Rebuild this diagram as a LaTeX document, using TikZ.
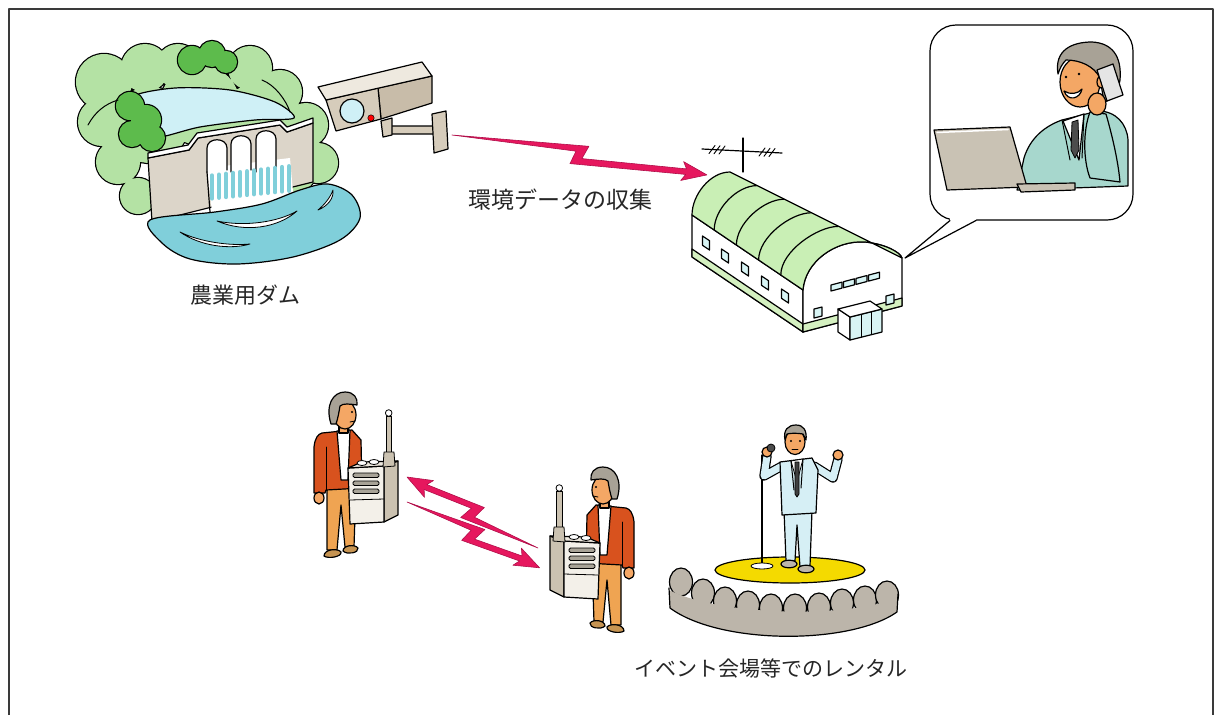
\documentclass[tikz,border=0pt]{standalone}
\usepackage{fontspec}
\newfontfamily\jpfont{Noto Sans CJK JP}
\usetikzlibrary{calc}

\definecolor{treeL}{HTML}{B4E2A4}
\definecolor{treeD}{HTML}{5DBB4C}
\definecolor{waterL}{HTML}{CFF0F6}
\definecolor{waterT}{HTML}{80CFDA}
\definecolor{concrete}{HTML}{DCD5C9}
\definecolor{camBody}{HTML}{D6CCBB}
\definecolor{camTop}{HTML}{EEE9DF}
\definecolor{camSide}{HTML}{C8BCA9}
\definecolor{boltC}{HTML}{E6175E}
\definecolor{boltE}{HTML}{B0104A}
\definecolor{roofG}{HTML}{C9EFB5}
\definecolor{baseG}{HTML}{D4F0C0}
\definecolor{glass}{HTML}{D8F4F4}
\definecolor{laptop}{HTML}{C9C2B4}
\definecolor{suitT}{HTML}{A7D7CD}
\definecolor{skin}{HTML}{F4A765}
\definecolor{hair}{HTML}{A8A296}
\definecolor{jacket}{HTML}{D8521E}
\definecolor{pants}{HTML}{EFA452}
\definecolor{shoe}{HTML}{C69452}
\definecolor{radioF}{HTML}{F3F0E9}
\definecolor{radioS}{HTML}{CBC2B1}
\definecolor{slot}{HTML}{A8A397}
\definecolor{stageY}{HTML}{F4DA00}
\definecolor{crowd}{HTML}{BCB5AA}
\definecolor{suitB}{HTML}{D6EFF5}
\definecolor{frameC}{HTML}{3A3A3A}

\tikzset{
  ink/.style={draw=black,line width=1.2},
  fineink/.style={draw=black,line width=0.8},
  lbl/.style={font=\jpfont\fontsize{22}{22}\selectfont,inner sep=0pt,text=black!85},
  % zig-zag radio bolt, tail at the origin, head at (#1,0)
  pics/bolt/.style={code={
    \path[fill=boltC,draw=boltE,line width=0.6]
      (0,0) -- ({0.5*#1+8},-10) -- ({0.5*#1+3},3.2) -- ({#1-21},-2.8)
      -- ({#1-25},-9.5) -- (#1,0) -- ({#1-25},9.5) -- ({#1-21},2.8)
      -- ({0.5*#1-8},10) -- ({0.5*#1-4},-3.2) -- cycle;
  }},
  % person carrying a portable transceiver
  pics/radioman/.style={code={
    \path[ink,fill=pants] (327,485) -- (356,485) -- (354,547) -- (345,547) -- (341,505) -- (337,550) -- (327,550) -- cycle;
    \path[ink,fill=shoe] (324,556) .. controls (324,549) and (338,548) .. (341,552) .. controls (342,557) and (328,559) .. (324,556) -- cycle;
    \path[ink,fill=shoe] (343,551) .. controls (343,545) and (355,544) .. (358,548) .. controls (359,553) and (347,555) .. (343,551) -- cycle;
    \path[ink,fill=jacket] (322,433) -- (352,430) -- (361,440) -- (362,488) -- (326,490) -- (325,493) -- (314,493) -- (314,447) .. controls (315,438) and (318,434) .. (322,433) -- cycle;
    \draw[line width=1] (326,447) -- (326,490);
    \path[ink,fill=white] (337,431) -- (350,430) -- (348,480) -- (341,480) -- cycle;
    \path[ink,fill=skin] (319,498) ellipse [x radius=5, y radius=6];
    \path[ink,fill=skin] (339,424) rectangle (348,433);
    \path[ink,fill=skin] (345,415) ellipse [x radius=11, y radius=14];
    \path[ink,fill=hair] (331,424) .. controls (325,405) and (333,392) .. (345,392) .. controls (354,392) and (358,398) .. (357,405) .. controls (350,404) and (343,403) .. (340,406) .. controls (339,412) and (338,418) .. (336,424) -- cycle;
    \fill (352,412) circle (1.2);
    \draw[line width=0.8] (350,422) -- (355,421);
    % transceiver
    \path[ink,fill=radioS] (384,466) -- (398,461) -- (398,515) -- (384,522) -- cycle;
    \path[ink,fill=radioF] (348,468) -- (384,466) -- (384,522) -- (350,524) -- cycle;
    \path[ink,fill=camTop] (348,468) -- (362,462) -- (398,461) -- (384,466) -- cycle;
    \path[fineink,fill=slot,rounded corners=1.5] (353,473) rectangle (379,477.5);
    \path[fineink,fill=slot,rounded corners=1.5] (353,481) rectangle (379,485.5);
    \path[fineink,fill=slot,rounded corners=1.5] (353,489) rectangle (379,493.5);
    \draw[line width=0.8] (350,500) -- (384,499);
    \path[fineink,fill=white] (362,463) ellipse [x radius=5, y radius=2.5];
    \path[fineink,fill=white] (374,462) ellipse [x radius=5, y radius=2.5];
    \path[fineink,fill=radioS] (386,416) rectangle (391.5,458);
    \path[fineink,fill=radioS] (384,452) -- (394,452) -- (395,466) -- (383,467) -- cycle;
    \path[fineink,fill=white] (388.7,413) circle (3.3);
  }},
}

\begin{document}
\begin{tikzpicture}[x=1pt,y=-1pt,line join=round,line cap=round]
\useasboundingbox (0,0) rectangle (1215,715);

% frame
\draw[frameC,line width=2.2,line cap=butt] (9,715) -- (9,9) -- (1213,9) -- (1213,715);

% ---------- agricultural dam ----------
% wooded hills: outlined discs, then refilled so only the outer rim stays
\def\hillA{(104,82) circle (28) (145,68) circle (24) (178,66) circle (22) (250,68) circle (22)
  (280,92) circle (22) (306,125) circle (22) (318,163) circle (20) (102,122) circle (24)
  (118,162) circle (22) (138,196) circle (18) (200,105) circle (40) (255,125) circle (40)
  (150,125) circle (38) (295,170) circle (22)}
\path[draw=black,line width=2.4] \hillA;
\path[fill=treeL] \hillA;
\path[ink,fill=waterL] plot[smooth cycle,tension=0.5] coordinates {(132,97) (175,88) (230,90) (275,102) (294,118) (255,120) (200,127) (152,138) (137,120)};
\def\hillB{(130,106) circle (14) (146,120) circle (15) (152,138) circle (13) (132,134) circle (13)}
\path[draw=black,line width=2.4] \hillB;
\path[fill=treeD] \hillB;
\def\hillC{(192,60) circle (14) (212,54) circle (13) (226,62) circle (11)}
\path[draw=black,line width=2.4] \hillC;
\path[fill=treeD] \hillC;
\draw[line width=1] (88,125) .. controls (95,112) and (105,104) .. (118,100);
\draw[line width=1] (262,80) .. controls (275,85) and (286,100) .. (290,112);
% dam body
\path[ink,fill=concrete] (148,158) -- (189,150) -- (198,138) -- (280,125) -- (287,132) -- (313,123) -- (313,182) -- (240,200) -- (152,222) -- cycle;
\path[ink,fill=white] (148,153) -- (188,145) -- (197,133) -- (280,120) -- (287,127) -- (313,118) -- (313,123) -- (287,132) -- (280,125) -- (198,138) -- (189,150) -- (148,158) -- cycle;
% spillway gates and falling water
\path[fill=white] (207,168) -- (290,158) -- (294,203) -- (212,212) -- cycle;
\foreach \xl/\xr/\yt in {207/227/140, 231/251/136, 256/276/131}
  \path[ink,fill=white] (\xl,172) -- (\xl,\yt+8) .. controls (\xl,\yt-3) and (\xr,\yt-3) .. (\xr,\yt+8) -- (\xr,170);
\foreach \x in {212,219,...,289}
  \draw[waterT,line width=4.2] (\x,{176-(\x-207)*0.12}) -- (\x,{199-(\x-207)*0.1});
\draw[line width=1.2] (207,172) -- (210,212);
% pool
\path[ink,fill=waterT] plot[smooth cycle,tension=0.55] coordinates {(150,220) (162,243) (190,259) (237,264) (293,257) (340,240) (360,218) (352,195) (328,184) (300,190) (262,204) (215,212)};
\path[fineink,fill=white] (217,221) .. controls (245,233) and (278,228) .. (297,211) .. controls (278,222) and (245,227) .. (217,221) -- cycle;
\path[fineink,fill=white] (180,232) .. controls (200,246) and (230,250) .. (250,244) .. controls (230,246) and (200,242) .. (180,232) -- cycle;
\path[fineink,fill=white] (318,210) .. controls (328,206) and (334,198) .. (333,190) .. controls (330,198) and (325,204) .. (318,210) -- cycle;
\node[lbl] (damLabel) at (245,295) {農業用ダム};

% ---------- monitoring camera ----------
\path[ink,fill=camBody,rounded corners=2] (386,126) rectangle (438,134);
\path[ink,fill=camSide] (378,88) -- (432,76) -- (432,103) -- (381,119) -- cycle;
\path[ink,fill=camBody] (326,100) -- (378,88) -- (381,119) -- (336,131) -- cycle;
\path[ink,fill=camTop] (318,87) -- (422,62) -- (432,76) -- (326,100) -- cycle;
\path[ink,fill=waterL] (352,111) circle (12);
\path[fill=red,draw=black,line width=0.5] (371,118) circle (3.2);
\path[ink,fill=camBody] (381,121) -- (392,118) -- (392,135) -- (383,137) -- cycle;
\path[ink,fill=camBody] (432,114) -- (446,111) -- (448,149) -- (434,153) -- cycle;
\coordinate (camOut) at (452,135);

% ---------- office building ----------
\draw[line width=1.2] (743,172) -- (743,138);
\draw[line width=1.2] (702,149) -- (782,153);
\foreach \x in {712,717,722,762,767,772}
  \draw[line width=0.9] (\x-3,{149+(\x-702)*0.05+4}) -- (\x+3,{149+(\x-702)*0.05-4});
\path[ink,fill=white] (692,215) -- (803,290) -- (803,332) -- (692,257) -- cycle;
\path[ink,fill=baseG] (692,249) -- (803,324) -- (803,332) -- (692,257) -- cycle;
\path[ink,fill=white] (803,290) .. controls (805,262) and (835,240) .. (865,242) .. controls (885,244) and (900,252) .. (902,258) -- (902,306) -- (803,332) -- cycle;
\path[ink,fill=baseG] (803,324) -- (902,298) -- (902,306) -- (803,332) -- cycle;
\path[ink,fill=roofG] (692,215) .. controls (692,195) and (710,172) .. (730,172) -- (902,258) .. controls (900,252) and (885,244) .. (865,242) .. controls (835,240) and (805,262) .. (803,290) -- cycle;
\foreach \t in {0.2,0.4,0.6,0.8}
  \draw[line width=1.2] ({692+111*\t},{215+75*\t}) .. controls ({692+111*\t},{195+70*\t}) and ({710+135*\t},{172+68*\t}) .. ({730+135*\t},{172+68*\t});
\foreach \cx/\cy in {706/243, 725/256, 745/269, 765/283, 785/296}
  \path[ink,fill=glass] (\cx-3.5,\cy-7) -- (\cx+3.5,\cy-2.3) -- (\cx+3.5,\cy+7) -- (\cx-3.5,\cy+2.3) -- cycle;
\foreach \i in {0,1,2,3}
  \path[ink,fill=glass] ({831+12.5*\i},{285-3.3*\i}) -- ({842+12.5*\i},{282.1-3.3*\i}) -- ({842+12.5*\i},{288.1-3.3*\i}) -- ({831+12.5*\i},{291-3.3*\i}) -- cycle;
\path[ink,fill=glass] (814,309) -- (822,307) -- (822,316) -- (814,318) -- cycle;
\path[ink,fill=glass] (886,296) -- (894,294) -- (894,303) -- (886,305) -- cycle;
% entrance porch
\path[ink,fill=white] (838,309) -- (850,317) -- (850,340) -- (838,332) -- cycle;
\path[ink,fill=glass] (850,317) -- (882,309) -- (882,332) -- (850,340) -- cycle;
\draw[line width=1] (861,314.2) -- (861,337.2) (871,311.7) -- (871,334.7);
\path[ink,fill=white] (838,309) -- (870,301) -- (882,309) -- (850,317) -- cycle;
\coordinate (bldgIn) at (707,175);

% ---------- speech bubble with operator ----------
\path[ink,fill=white,rounded corners=26] (930,25) rectangle (1133,220);
\path[ink,fill=suitT] (1017,190) -- (1024,158) .. controls (1030,138) and (1045,126) .. (1062,120) -- (1098,111) .. controls (1116,111) and (1127,124) .. (1128,140) -- (1128,186) -- cycle;
\path[ink,fill=white] (1063,121) -- (1084,114) -- (1079,160) -- cycle;
\path[fineink,fill=black!70] (1072,122) -- (1078,120) -- (1079,150) -- (1075,158) -- (1071,150) -- cycle;
\draw[line width=1] (1062,120) -- (1070,160) (1084,114) -- (1082,158);
\path[ink,fill=suitT] (1090,178) .. controls (1083,160) and (1083,130) .. (1090,112) -- (1106,114) .. controls (1112,135) and (1118,160) .. (1120,182) -- cycle;
\path[ink,fill=skin] (1080,82) ellipse [x radius=20, y radius=25];
\path[ink,fill=hair] (1058,74) .. controls (1054,50) and (1072,42) .. (1092,42) .. controls (1112,43) and (1122,56) .. (1120,80) .. controls (1118,92) and (1112,100) .. (1104,102) -- (1100,78) .. controls (1094,66) and (1080,60) .. (1066,60) .. controls (1062,64) and (1060,68) .. (1058,74) -- cycle;
\path[ink,fill=skin] (1101,82) ellipse [x radius=4, y radius=6];
\fill (1066,77) circle (1.4) (1079,74) circle (1.4);
\path[ink,fill=white] (1064,91) .. controls (1070,95) and (1078,94) .. (1082,89) .. controls (1080,99) and (1068,102) .. (1064,91) -- cycle;
\path[ink,fill=white!90!black] (1097,70) -- (1113,64) -- (1123,95) -- (1107,101) -- cycle;
\path[ink,fill=skin] (1097,104) ellipse [x radius=9, y radius=11];
\path[ink,fill=laptop] (934,130) -- (1010,127) -- (1027,187) -- (947,190) -- cycle;
\draw[white,line width=1.5] (937,132.5) -- (1008,129.5);
\path[ink,fill=laptop] (1017,184) -- (1075,183) -- (1075,190) -- (1021,192) -- cycle;
\path[fill=white] (950,217) -- (976,217) -- (976,220) -- (905,258) -- (950,220) -- cycle;
\draw[line width=1.2] (950,220.5) -- (905,258) -- (976,220.5);

% ---------- event venue ----------
\path[ink,fill=stageY] (790,570) ellipse [x radius=75, y radius=13];
\draw[line width=1.1] (762,455) -- (762,565);
\path[fineink,fill=white] (762,566) ellipse [x radius=11, y radius=3];
\path[ink,fill=suitB] (784,510) -- (812,510) -- (810,566) -- (800,567) -- (797,525) -- (795,561) -- (786,561) -- cycle;
\path[ink,fill=crowd] (789,564) ellipse [x radius=8, y radius=3.8];
\path[ink,fill=crowd] (806,569) ellipse [x radius=8, y radius=3.8];
\draw[line width=9.4] (782,466) -- (764,476) -- (767,456);
\draw[suitB,line width=7] (782,466) -- (764,476) -- (767,456);
\draw[line width=9.4] (814,466) -- (833,478) -- (838,459);
\draw[suitB,line width=7] (814,466) -- (833,478) -- (838,459);
\path[ink,fill=suitB] (780,462) -- (812,458) -- (818,470) -- (816,513) -- (782,515) -- cycle;
\path[fineink,fill=white] (791,461) -- (803,459) -- (797,482) -- cycle;
\path[fineink,fill=black!75] (795,462) -- (799,462) -- (799,494) -- (797,497) -- (795,494) -- cycle;
\draw[line width=1] (791,461) -- (794,490) (803,459) -- (801,488);
\path[ink,fill=skin] (767,452) circle (5);
\path[fineink,fill=black!70] (771,448) circle (4);
\path[ink,fill=skin] (838,455) circle (5);
\path[ink,fill=skin] (795,442) ellipse [x radius=10, y radius=12.5];
\path[ink,fill=hair] (785,440) .. controls (783,430) and (788,425) .. (796,425) .. controls (804,425) and (807,431) .. (806,440) -- (803,434) .. controls (797,433) and (791,433) .. (787,434) -- cycle;
\fill (791,441) circle (1.1) (800,441) circle (1.1);
\draw[line width=0.8] (792,449) -- (798,449);
% audience
\foreach \x/\y in {681/582, 703/593, 725/601, 748/605, 771/608, 795/608, 819/607, 842/603, 865/600, 887/595}
  \path[ink,fill=crowd] (\x,\y) ellipse [x radius=11.5, y radius=14];
\path[fill=crowd] (669,590) .. controls (720,616) and (850,619) .. (898,597) -- (897,612) .. controls (850,645) and (720,645) .. (670,608) -- cycle;
\draw[line width=1.2] (669,588) -- (670,608) .. controls (720,645) and (850,645) .. (897,612) -- (898,594);
\node[lbl,font=\jpfont\fontsize{21}{21}\selectfont] (venueLabel) at (771,668) {イベント会場等でのレンタル};

% ---------- transceiver users ----------
\path (0,0) pic (userA) {radioman};
\path (948,75) pic[xscale=-1] (userB) {radioman};
\coordinate (radioAOut) at (407,502);
\coordinate (radioAIn) at (407,477);
\coordinate (radioBIn) at (540,568);
\coordinate (radioBOut) at (538,548);

% ---------- radio links ----------
\path (camOut) pic[rotate=-8.9] {bolt=258};
\path (radioBOut) pic[rotate=151.55] {bolt=149};
\path (radioAOut) pic[rotate=-26.4] {bolt=148};
\node[lbl,font=\jpfont\fontsize{23}{23}\selectfont] (linkLabel) at (560,200) {環境データの収集};

\end{tikzpicture}
\end{document}
